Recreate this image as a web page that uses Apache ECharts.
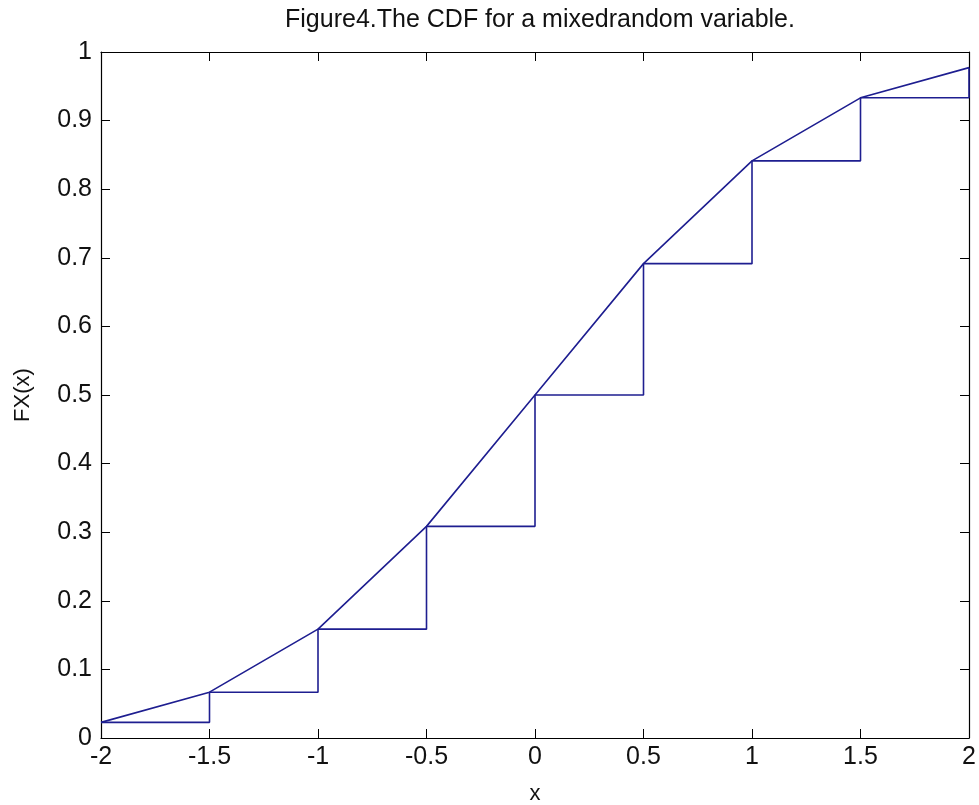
<!DOCTYPE html>
<html>
<head>
<meta charset="utf-8">
<script src="https://cdn.jsdelivr.net/npm/echarts@6/dist/echarts.min.js"></script>
<style>
  html, body { margin: 0; padding: 0; background: #fff; }
  #chart { width: 979px; height: 805px; }
</style>
</head>
<body>
<div id="chart"></div>
<script>
// x positions and the CDF values
var xs = [-2, -1.5, -1, -0.5, 0, 0.5, 1, 1.5, 2];
var cdf = [0.0228, 0.0668, 0.1587, 0.3085, 0.5, 0.6915, 0.8413, 0.9332, 0.9772];

var pairs = [];
for (var i = 0; i < xs.length; i++) {
    pairs.push([xs[i], cdf[i]]);
}

var lineColor = '#1e1e90';
var font = 'Liberation Sans';

var chart = echarts.init(document.getElementById('chart'));
var tickStyle = { inside: true, length: 9, lineStyle: { color: '#000' } };
var axisLine = { show: true, onZero: false, lineStyle: { color: '#000', width: 1.2 } };

chart.setOption({
    backgroundColor: '#fff',
    animation: false,
    title: {
        text: 'Figure4.The CDF for a mixedrandom variable.',
        left: 535,
        textAlign: 'center',
        top: 3,
        textStyle: { fontFamily: font, fontSize: 25, fontWeight: 'normal', color: '#111' }
    },
    grid: { left: 101, right: 10, top: 52, bottom: 67, containLabel: false, outerBoundsMode: 'none' },
    xAxis: [{
        type: 'value', min: -2, max: 2, interval: 0.5,
        name: 'x', nameLocation: 'middle', nameGap: 45,
        nameTextStyle: { fontFamily: font, fontSize: 22, color: '#111', verticalAlign: 'top' },
        axisLine: axisLine, axisTick: tickStyle,
        axisLabel: { fontFamily: font, fontSize: 25, color: '#111', margin: 7 },
        splitLine: { show: false }
    }, {
        type: 'value', min: -2, max: 2, interval: 0.5, position: 'top',
        axisLine: axisLine, axisTick: tickStyle,
        axisLabel: { show: false }, splitLine: { show: false }
    }],
    yAxis: [{
        type: 'value', min: 0, max: 1, interval: 0.1,
        name: 'FX(x)', nameLocation: 'middle', nameGap: 67,
        nameTextStyle: { fontFamily: font, fontSize: 22, color: '#111' },
        axisLine: axisLine, axisTick: tickStyle,
        axisLabel: { fontFamily: font, fontSize: 25, color: '#111', margin: 9 },
        splitLine: { show: false }
    }, {
        type: 'value', min: 0, max: 1, interval: 0.1, position: 'right',
        axisLine: axisLine, axisTick: tickStyle,
        axisLabel: { show: false }, splitLine: { show: false }
    }],
    series: [{
        name: 'continuous',
        type: 'line',
        data: pairs,
        showSymbol: false,
        lineStyle: { color: lineColor, width: 1.6 }
    }, {
        name: 'stairs',
        type: 'line',
        step: 'end',
        data: pairs,
        showSymbol: false,
        lineStyle: { color: lineColor, width: 1.6 }
    }]
});
</script>
</body>
</html>
